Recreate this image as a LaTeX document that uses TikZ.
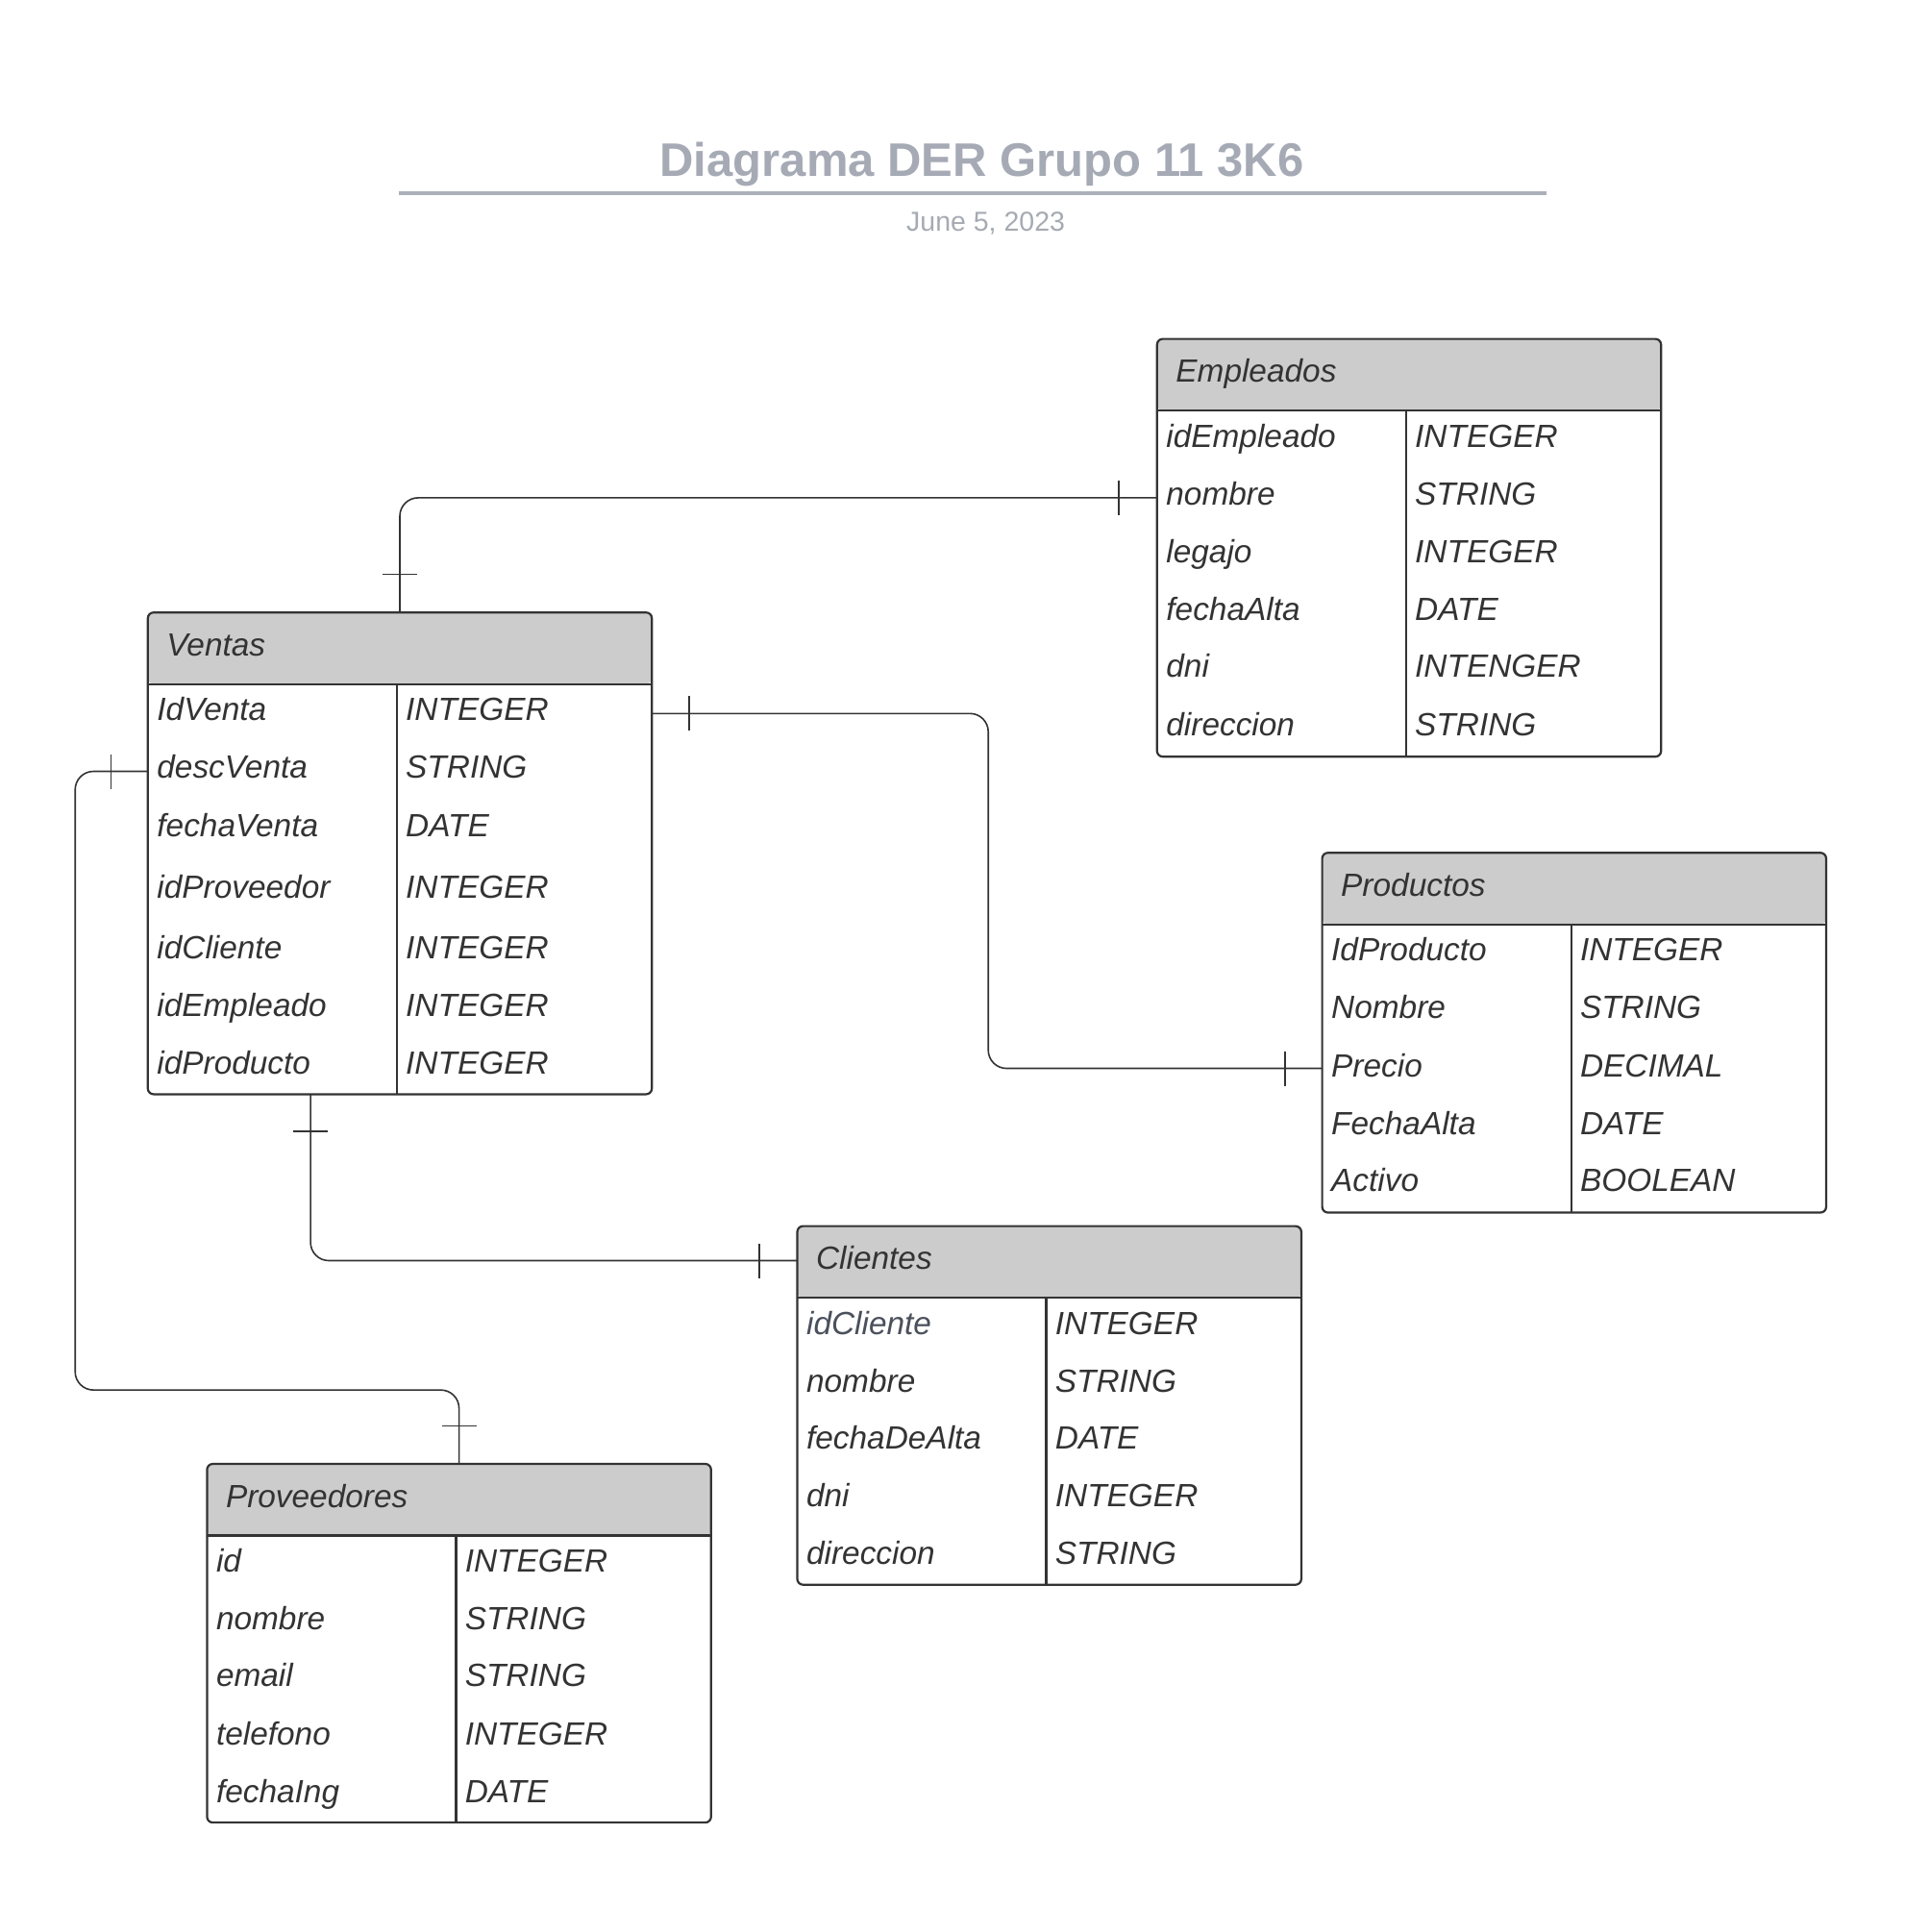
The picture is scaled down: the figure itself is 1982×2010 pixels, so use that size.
\documentclass[tikz,border=0pt]{standalone}
\usepackage{fontspec}
\setmainfont{Liberation Sans}
\usetikzlibrary{calc}
\definecolor{ink}{HTML}{333333}
\definecolor{ink2}{HTML}{4A505C}
\definecolor{hdr}{HTML}{CCCCCC}
\definecolor{titlec}{HTML}{A5AAB5}
\definecolor{datec}{HTML}{A6AAB2}
\definecolor{rulec}{HTML}{ABB0BA}
\tikzset{
  tbl/.style={draw=ink, line width=1.1pt, fill=white, rounded corners=3pt,
    inner sep=0pt, outer sep=0pt, minimum width=262.2pt, anchor=north west,
    path picture={
      \fill[hdr] (path picture bounding box.north west) rectangle ([yshift=-37.2pt]path picture bounding box.north east);
      \draw[ink, line width=1.1pt] ([yshift=-37.2pt]path picture bounding box.north west) -- ([yshift=-37.2pt]path picture bounding box.north east);
      \draw[ink, line width=1.1pt] ([xshift=129.5pt,yshift=-37.2pt]path picture bounding box.north west) -- ([xshift=129.5pt]path picture bounding box.south west);
    }},
  fld/.style={anchor=base west, inner sep=0pt, text=ink, font=\itshape\fontsize{16.7}{20}\selectfont},
  hdrtxt/.style={fld},
  conn/.style={draw=ink, line width=0.8pt, rounded corners=9.5pt},
  tick/.style={draw=ink, line width=0.8pt},
}
\newcommand\ertrow[5]{%
  \node[fld] (#1-#2-f) at ($(#1.north west)+(9.2,#3+12.5)$) {#4};
  \node[fld] (#1-#2-t) at ($(#1.north west)+(268,#3+12.5)$) {#5};}
\begin{document}
\begin{tikzpicture}[x=0.5pt,y=-0.5pt]
\useasboundingbox (0,0) rectangle (1982,2010);
\fill[white] (0,0) rectangle (1982,2010);

% title
\node[anchor=base, inner sep=0pt, text=titlec, font=\bfseries\fontsize{24.5}{28}\selectfont] (title) at (1021.5,183.4) {Diagrama DER Grupo 11 3K6};
\coordinate (ruleL) at (415.4,201.3);
\coordinate (ruleR) at (1609,201.3);
\draw[rulec, line width=2pt] (ruleL) -- (ruleR);
\node[anchor=base, inner sep=0pt, text=datec, font=\fontsize{14.25}{17}\selectfont] (date) at (1025.6,240.5) {June 5, 2023};

% Empleados
\node[tbl, minimum height=217.3pt] (emp) at (1203.8,352.6) {};
\node[hdrtxt] (emp-h) at ($(emp.north west)+(19.2,45.3)$) {Empleados};
\ertrow{emp}{1}{100}{idEmpleado}{INTEGER}
\ertrow{emp}{2}{160.2}{nombre}{STRING}
\ertrow{emp}{3}{220.5}{legajo}{INTEGER}
\ertrow{emp}{4}{280.7}{fechaAlta}{DATE}
\ertrow{emp}{5}{339.7}{dni}{INTENGER}
\ertrow{emp}{6}{399.9}{direccion}{STRING}

% Ventas
\node[tbl, minimum height=250.6pt] (ven) at (153.8,637.2) {};
\node[hdrtxt] (ven-h) at ($(ven.north west)+(19.2,45.3)$) {Ventas};
\ertrow{ven}{1}{100}{IdVenta}{INTEGER}
\ertrow{ven}{2}{160.2}{descVenta}{STRING}
\ertrow{ven}{3}{220.5}{fechaVenta}{DATE}
\ertrow{ven}{4}{284.6}{idProveedor}{INTEGER}
\ertrow{ven}{5}{347.4}{idCliente}{INTEGER}
\ertrow{ven}{6}{407.7}{idEmpleado}{INTEGER}
\ertrow{ven}{7}{467.9}{idProducto}{INTEGER}

% Productos
\node[tbl, minimum height=187.15pt] (prod) at (1375.6,887.2) {};
\node[hdrtxt] (prod-h) at ($(prod.north west)+(19.2,45.3)$) {Productos};
\ertrow{prod}{1}{100}{IdProducto}{INTEGER}
\ertrow{prod}{2}{160.2}{Nombre}{STRING}
\ertrow{prod}{3}{220.5}{Precio}{DECIMAL}
\ertrow{prod}{4}{280.7}{FechaAlta}{DATE}
\ertrow{prod}{5}{339.7}{Activo}{BOOLEAN}

% Clientes
\node[tbl, minimum height=186.55pt] (cli) at (829.5,1275.6) {};
\node[hdrtxt] (cli-h) at ($(cli.north west)+(19.2,45.3)$) {Clientes};
\ertrow{cli}{1}{100}{\textcolor{ink2}{idCliente}}{INTEGER}
\ertrow{cli}{2}{160.3}{nombre}{STRING}
\ertrow{cli}{3}{219.2}{fechaDeAlta}{DATE}
\ertrow{cli}{4}{279.5}{dni}{INTEGER}
\ertrow{cli}{5}{339.7}{direccion}{STRING}

% Proveedores
\node[tbl, minimum height=186.55pt] (prov) at (215.4,1523.0) {};
\node[hdrtxt] (prov-h) at ($(prov.north west)+(19.2,45.3)$) {Proveedores};
\ertrow{prov}{1}{100}{id}{INTEGER}
\ertrow{prov}{2}{160.3}{nombre}{STRING}
\ertrow{prov}{3}{219.2}{email}{STRING}
\ertrow{prov}{4}{279.5}{telefono}{INTEGER}
\ertrow{prov}{5}{339.8}{fechaIng}{DATE}

% connector endpoints
\coordinate (eC) at ($(emp.north west)+(0,165.3)$);
\coordinate (vR) at ($(ven.north east)+(0,105.1)$);
\coordinate (pL) at ($(prod.north west)+(0,224.3)$);
\coordinate (vL) at ($(ven.north west)+(0,165.3)$);
\coordinate (vB) at ($(ven.south west)+(169.3,0)$);
\coordinate (cL) at ($(cli.north west)+(0,35.9)$);
\coordinate (m2) at (1028.2,1111.5);
\coordinate (m3) at (78.2,1446.1);

% Empleados -- Ventas
\draw[conn] (eC) -| (ven.north);
\draw[tick] ($(eC)+(-39.7,-18)$) -- ($(eC)+(-39.7,18)$);
\draw[tick] ($(ven.north)+(-18,-39.8)$) -- ($(ven.north)+(18,-39.8)$);

% Ventas -- Productos
\draw[conn] (vR) -| (m2) -- (pL);
\draw[tick] ($(vR)+(38.5,-18)$) -- ($(vR)+(38.5,18)$);
\draw[tick] ($(pL)+(-38.5,-18)$) -- ($(pL)+(-38.5,18)$);

% Ventas -- Proveedores
\draw[conn] (vL) -| (m3) -| (prov.north);
\draw[tick] ($(vL)+(-38.4,-18)$) -- ($(vL)+(-38.4,18)$);
\draw[tick] ($(prov.north)+(-18,-39.7)$) -- ($(prov.north)+(18,-39.7)$);

% Ventas -- Clientes
\draw[conn] (vB) |- (cL);
\draw[tick] ($(vB)+(-18,38.5)$) -- ($(vB)+(18,38.5)$);
\draw[tick] ($(cL)+(-39.8,-18)$) -- ($(cL)+(-39.8,18)$);
\end{tikzpicture}
\end{document}
